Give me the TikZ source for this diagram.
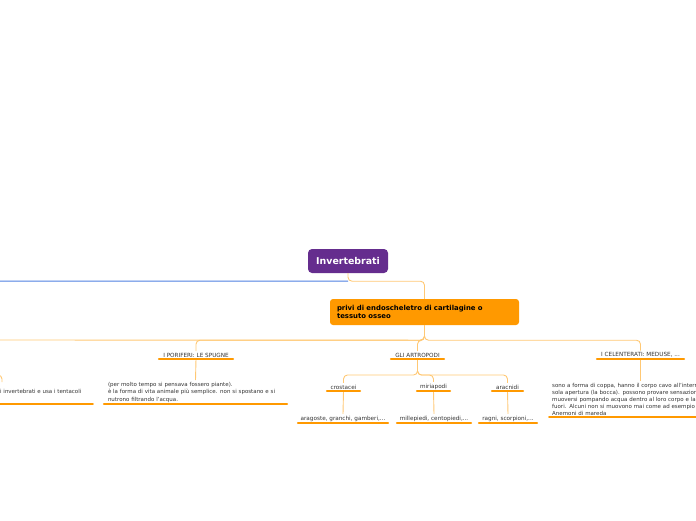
\documentclass[tikz,border=0pt]{standalone}
\usepackage{fontspec}
\setmainfont{DejaVu Sans}
\usetikzlibrary{positioning}
\definecolor{rootpurple}{HTML}{652D8E}
\definecolor{boxorange}{HTML}{FF9900}
\definecolor{linkorange}{HTML}{FFC874}
\definecolor{linkblue}{HTML}{4F80E1}
\definecolor{txtgray}{HTML}{333333}
\tikzset{
  rootbox/.style={fill=rootpurple, rounded corners=4pt, text=white, font=\fontsize{9.4}{11}\selectfont\bfseries, minimum width=80pt, minimum height=24pt, inner sep=0pt},
  mainbox/.style={fill=boxorange, rounded corners=3pt, font=\fontsize{6.9}{8.8}\selectfont\bfseries, text width=175pt, inner xsep=7pt, minimum height=26pt, align=left},
  topic/.style={font=\fontsize{5.7}{7}\selectfont, text=txtgray, inner xsep=0pt, inner ysep=1.6pt, anchor=south},
  desc/.style={font=\fontsize{5.5}{7.5}\selectfont, text=txtgray, align=left, inner ysep=1.6pt},
  uline/.style={boxorange, line width=2.4pt, line cap=round, shorten <=1.2pt, shorten >=1.2pt},
  link/.style={linkorange, line width=0.9pt, rounded corners=4pt},
}
\begin{document}
\begin{tikzpicture}[x=1pt, y=-1pt]
\useasboundingbox (0,0) rectangle (696,520);
\clip (0,0) rectangle (696,520);
% central topic
\node[rootbox] (inv) at (348,261) {Invertebrati};
\node[mainbox] (privi) at (424.5,312) {privi di endoscheletro di cartilagine o\\tessuto osseo};
% main branches
\node[topic, minimum width=76pt] (pori) at (196,359) {I PORIFERI: LE SPUGNE};
\node[topic, minimum width=55pt] (artro) at (417.5,359) {GLI ARTROPODI};
\node[topic, minimum width=89pt] (cele) at (640.5,359) {I CELENTERATI: MEDUSE, ...};
% artropodi
\node[topic, minimum width=35pt] (crost) at (343.5,391) {crostacei};
\node[topic, minimum width=35pt] (miria) at (433.5,391) {miriapodi};
\node[topic, minimum width=33pt] (aracn) at (507.5,391) {aracnidi};
\node[topic, minimum width=92pt] (arag) at (343,423) {aragoste, granchi, gamberi,...};
\node[topic, minimum width=76pt] (mille) at (434,423) {millepiedi, centopiedi,...};
\node[topic, minimum width=60pt] (ragni) at (508,423) {ragni, scorpioni,...};
% descriptions
\node[desc, anchor=base west, inner xsep=0pt] (leftdesc) at (0,393) {i invertebrati e usa i tentacoli};
\node[desc, anchor=south, text width=175pt, inner xsep=5pt] (poridesc) at (195.5,404) {(per molto tempo si pensava fossero piante).\\
\`e la forma di vita animale pi\`u semplice. non si spostano e si\\
nutrono filtrando l'acqua.};
\node[desc, anchor=south west, text width=220pt, inner xsep=4pt, font=\fontsize{5.5}{7}\selectfont] (celedesc) at (548,417) {sono a forma di coppa, hanno il corpo cavo all'interno e una\\
sola apertura (la bocca). possono provare sensazioni e\\
muoversi pompando acqua dentro al loro corpo e la spingono\\
fuori. Alcuni non si muovono mai come ad esempio gli\\
Anemoni di mareda};
% connectors
\draw[link] (inv.south) -- ++(0,8) -| (privi.north);
\draw[linkblue, line width=1pt] (inv.south) ++(0,8) -- (-20,281);
\draw[link] (privi.south) -- ++(0,15) -- (-20,340);
\draw[link] (privi.south) -- ++(0,15) -| (pori.north);
\draw[link] (privi.south) -- ++(0,15) -| (artro.north);
\draw[link] (privi.south) -- ++(0,15) -| (cele.north);
\draw[link] (-20,375) -| (2,382);
\draw[link] (pori.south) -- (poridesc.north);
\draw[link] (cele.south) -- (cele.south |- celedesc.north);
\foreach \kid in {crost,miria,aracn}
  \draw[link] (artro.south) -- ++(0,16) -| (\kid.north);
\draw[link] (crost.south) -- (arag.north);
\draw[link] (miria.south) -- (mille.north);
\draw[link] (aracn.south) -- (ragni.north);
% underlines
\foreach \n in {pori,artro,cele,crost,miria,aracn,arag,mille,ragni,poridesc,celedesc}
  \draw[uline] (\n.south west) -- (\n.south east);
\draw[uline] (-20,404) -- (94,404);
\end{tikzpicture}
\end{document}
